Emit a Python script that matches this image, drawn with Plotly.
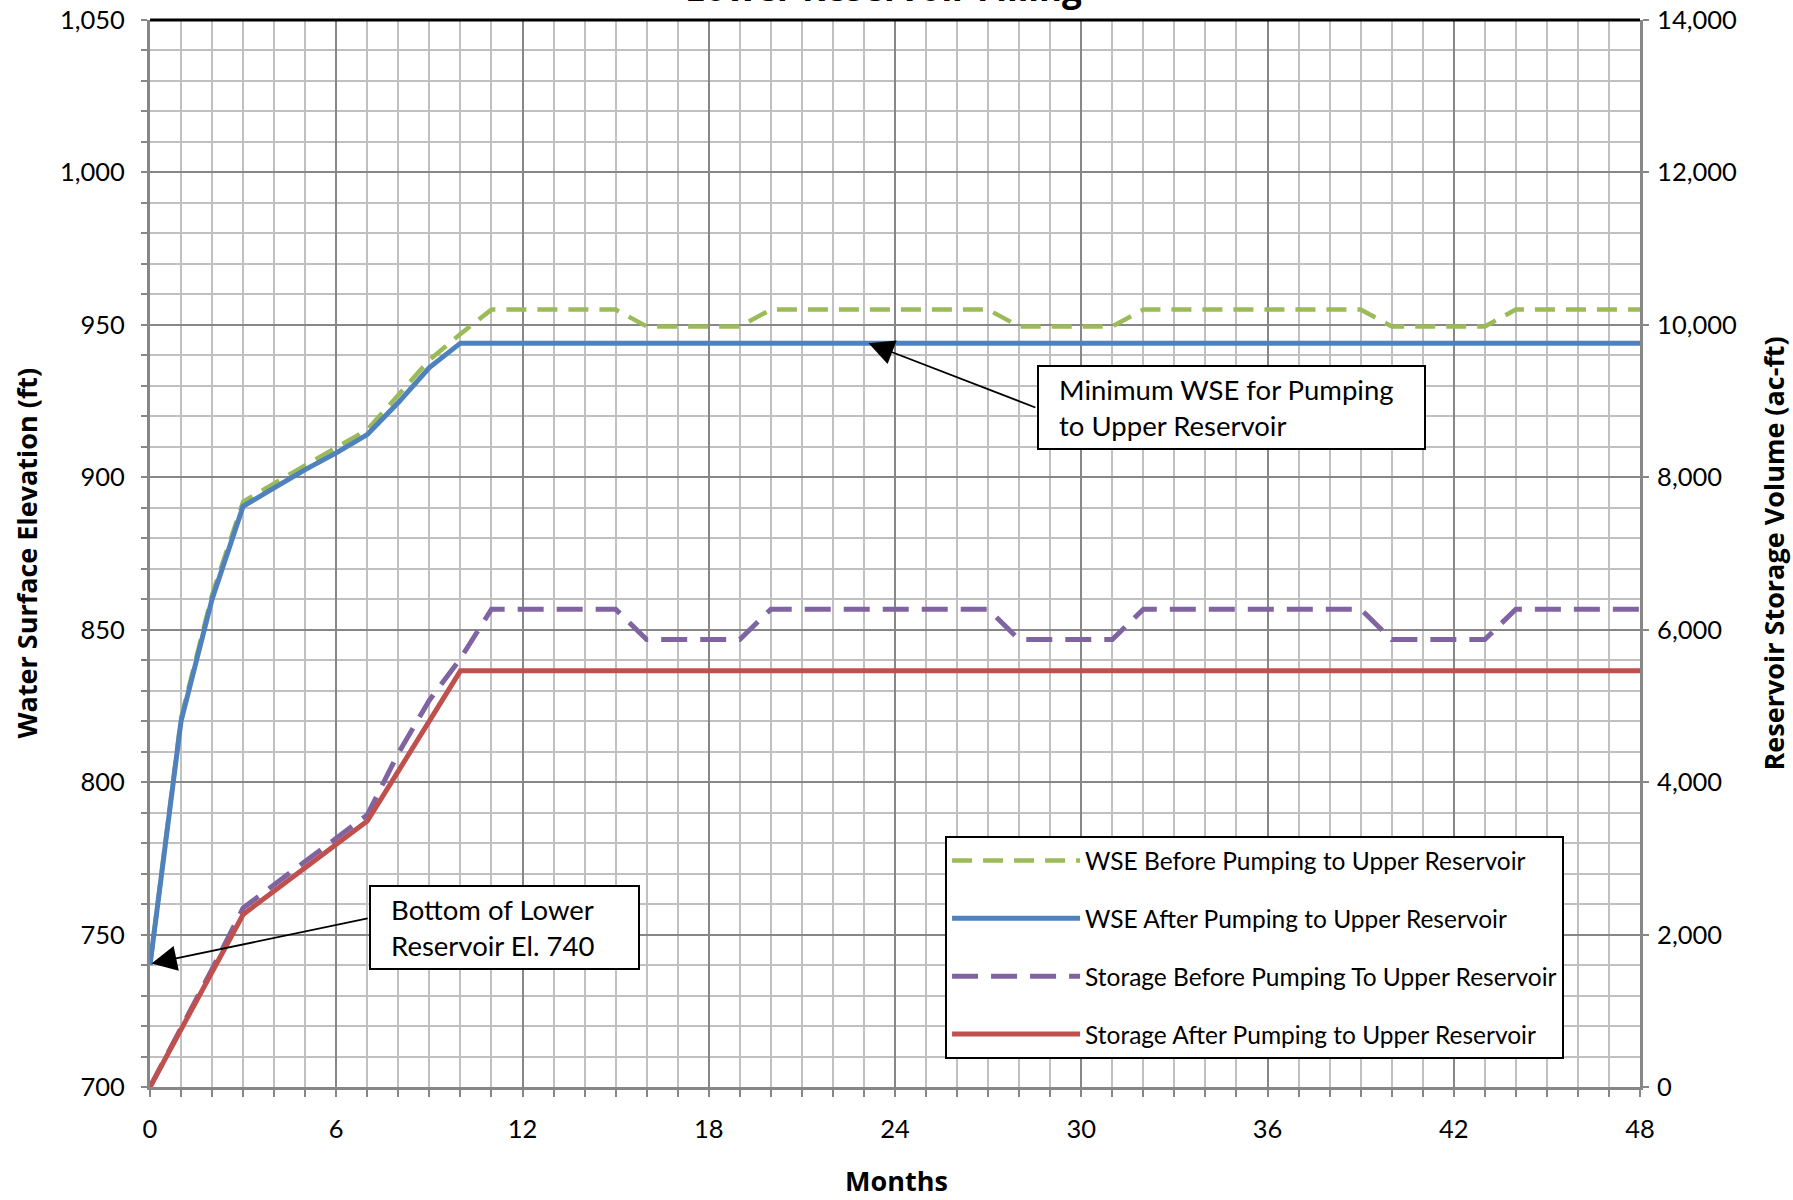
import plotly.graph_objects as go

# ---------------- data ----------------
months = list(range(0, 49))

wse_before = [740, 821, 861.5, 892, 898, 904, 910, 915.6, 927, 938.5, 947,
              955, 955, 955, 955, 955,
              949.5, 949.5, 949.5, 949.5,
              955, 955, 955, 955, 955, 955, 955, 955,
              949.5, 949.5, 949.5, 949.5,
              955, 955, 955, 955, 955, 955, 955, 955,
              949.5, 949.5, 949.5, 949.5,
              955, 955, 955, 955, 955]

wse_after = [740, 820, 860, 890.5, 896.5, 902.5, 908, 914, 924.5, 936, 944,
             944, 944, 944, 944, 944, 944, 944, 944, 944, 944,
             944, 944, 944, 944, 944, 944, 944, 944, 944, 944,
             944, 944, 944, 944, 944, 944, 944, 944, 944, 944,
             944, 944, 944, 944, 944, 944, 944, 944]

storage_before = [0, 770, 1545, 2350, 2660, 2970, 3275, 3570, 4380, 5075, 5620,
                  6270, 6270, 6270, 6270, 6270,
                  5870, 5870, 5870, 5870,
                  6270, 6270, 6270, 6270, 6270, 6270, 6270, 6270,
                  5870, 5870, 5870, 5870,
                  6270, 6270, 6270, 6270, 6270, 6270, 6270, 6270,
                  5870, 5870, 5870, 5870,
                  6270, 6270, 6270, 6270, 6270]

storage_after = [0, 752, 1517, 2264, 2572, 2880, 3187, 3490, 4145, 4800, 5460,
                 5460, 5460, 5460, 5460, 5460, 5460, 5460, 5460, 5460, 5460,
                 5460, 5460, 5460, 5460, 5460, 5460, 5460, 5460, 5460, 5460,
                 5460, 5460, 5460, 5460, 5460, 5460, 5460, 5460, 5460, 5460,
                 5460, 5460, 5460, 5460, 5460, 5460, 5460, 5460]

series_names = ["WSE Before Pumping to Upper Reservoir",
                "WSE After Pumping to Upper Reservoir",
                "Storage Before Pumping To Upper Reservoir",
                "Storage After Pumping to Upper Reservoir"]

x_ticks = [0, 6, 12, 18, 24, 30, 36, 42, 48]
left_ticks = [700, 750, 800, 850, 900, 950, 1000, 1050]
right_ticks = [0, 2000, 4000, 6000, 8000, 10000, 12000, 14000]

# ---------------- styling ----------------
TICK_FONT = dict(family="Lato", size=25.5, color="black")
TITLE_FONT = dict(family="Open Sans", size=27, color="black")
NOTE_FONT = dict(family="Lato", size=27.5, color="black")
MAJOR = "#878787"
MINOR = "#C0C0C0"
NB = "\u00a0\u00a0"

fig = go.Figure()
fig.add_trace(go.Scatter(x=months, y=wse_before, name=series_names[0], mode="lines",
                         line=dict(color="#9BBB59", width=4.5, dash="20px,11px"),
                         legendgroup="g1"))
fig.add_trace(go.Scatter(x=months, y=wse_after, name=series_names[1], mode="lines",
                         line=dict(color="#4F81BD", width=5),
                         legendgroup="g2"))
fig.add_trace(go.Scatter(x=months, y=storage_before, name=series_names[2], mode="lines",
                         line=dict(color="#8064A2", width=5, dash="26px,13px"),
                         yaxis="y2", legendgroup="g3"))
fig.add_trace(go.Scatter(x=months, y=storage_after, name=series_names[3], mode="lines",
                         line=dict(color="#C0504D", width=5),
                         yaxis="y2", legendgroup="g4"))

fig.update_layout(
    width=1793, height=1200,
    margin=dict(l=150, r=153, t=20, b=113),
    paper_bgcolor="white", plot_bgcolor="white",
    font=dict(family="Lato", size=24, color="black"),
    xaxis=dict(range=[0, 48], tickvals=x_ticks, showgrid=True, gridcolor=MAJOR, gridwidth=1.5,
               minor=dict(dtick=1, showgrid=True, gridcolor=MINOR, gridwidth=1.5,
                          ticks="outside", ticklen=7, tickcolor=MAJOR, tickwidth=1.5),
               ticks="outside", ticklen=7, tickcolor=MAJOR, tickwidth=1.5,
               showline=True, linecolor=MAJOR, linewidth=3, zeroline=False,
               tickfont=TICK_FONT, ticklabelstandoff=10, automargin=False),
    yaxis=dict(range=[700, 1050], tickvals=left_ticks, tickformat=",",
               showgrid=True, gridcolor=MAJOR, gridwidth=1.5,
               minor=dict(dtick=10, showgrid=True, gridcolor=MINOR, gridwidth=1.5,
                          ticks="outside", ticklen=6, tickcolor=MAJOR, tickwidth=1.5),
               ticks="outside", ticklen=6, tickcolor=MAJOR, tickwidth=1.5,
               showline=True, linecolor=MAJOR, linewidth=3, zeroline=False,
               tickfont=TICK_FONT, ticklabelstandoff=11, automargin=False),
    yaxis2=dict(range=[0, 14000], tickvals=right_ticks, tickformat=",",
                overlaying="y", side="right", showgrid=False, zeroline=False,
                ticks="outside", ticklen=6, tickcolor=MAJOR, tickwidth=1.5,
                showline=True, linecolor=MAJOR, linewidth=3,
                tickfont=TICK_FONT, ticklabelstandoff=3, automargin=False),
    legend=dict(x=0.5336, xanchor="left", y=0.2352, yanchor="top",
                bordercolor="black", borderwidth=2, bgcolor="white",
                font=dict(family="Lato", size=24.5, color="black"),
                tracegroupgap=23, itemwidth=128),
    showlegend=True,
)

# top border of plot area
fig.add_shape(type="line", xref="paper", yref="paper", x0=0, x1=1, y0=1, y1=1,
              line=dict(color="black", width=3))

# chart title (partly cut off at top of page, as in the reference)
fig.add_annotation(text="<b>Lower Reservoir Filling</b>", xref="paper", yref="paper",
                   x=0.4926, y=1, yanchor="middle", yshift=33, showarrow=False,
                   font=dict(family="Open Sans", size=35, color="black"))
# axis titles
fig.add_annotation(text="<b>Water Surface Elevation (ft)</b>", xref="paper", yref="paper",
                   x=-0.0832, xanchor="center", y=0.5, yanchor="middle", textangle=-90,
                   showarrow=False, font=TITLE_FONT)
fig.add_annotation(text="<b>Reservoir Storage Volume (ac-ft)</b>", xref="paper", yref="paper",
                   x=1.0899, xanchor="center", y=0.5, yanchor="middle", textangle=-90,
                   showarrow=False, font=TITLE_FONT)
fig.add_annotation(text="<b>Months</b>", xref="paper", yref="paper",
                   x=0.5007, xanchor="center", y=-0.0875, yanchor="middle",
                   showarrow=False, font=TITLE_FONT)

# callout arrows
fig.add_annotation(text="", x=23.15, y=944, ax=28.57, ay=922.7, xref="x", yref="y",
                   axref="x", ayref="y", showarrow=True, arrowhead=2, arrowsize=2.8,
                   arrowwidth=1.8, arrowcolor="black")
fig.add_annotation(text="", x=0.05, y=740.5, ax=7.06, ay=755.4, xref="x", yref="y",
                   axref="x", ayref="y", showarrow=True, arrowhead=2, arrowsize=2.8,
                   arrowwidth=1.8, arrowcolor="black")
# callout boxes
fig.add_annotation(text=NB + "Minimum WSE for Pumping<br>" + NB + "to Upper Reservoir",
                   x=34.83, y=922.9, xref="x", yref="y", showarrow=False, align="left",
                   width=373, bordercolor="black", borderwidth=2, borderpad=6,
                   bgcolor="white", font=NOTE_FONT)
fig.add_annotation(text=NB + "Bottom of Lower<br>" + NB + "Reservoir El. 740",
                   x=11.42, y=752.3, xref="x", yref="y", showarrow=False, align="left",
                   width=255, bordercolor="black", borderwidth=2, borderpad=6,
                   bgcolor="white", font=NOTE_FONT)

fig.write_html("out.html")
